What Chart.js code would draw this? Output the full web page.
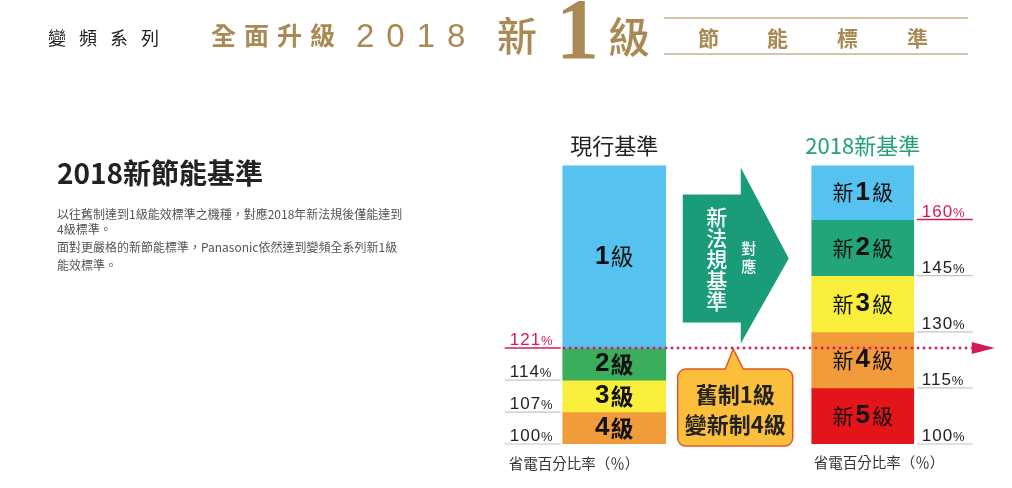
<!DOCTYPE html>
<html>
<head>
<meta charset="utf-8">
<script src="https://cdn.jsdelivr.net/npm/chart.js@4.4.0/dist/chart.umd.min.js"></script>
<style>
  html, body { margin: 0; padding: 0; background: #fff; }
  #wrap { position: relative; width: 1012px; height: 488px; overflow: hidden;
          font-family: "Noto Sans CJK TC", "Noto Sans", sans-serif; }
  #chart { position: absolute; left: 0; top: 0; }
  .t { position: absolute; white-space: nowrap; line-height: 1; }
  .gold { color: #a98a55; }
  .rule { position: absolute; left: 664px; width: 304px; height: 2px; background: #d2c5aa; }
  .para { position: absolute; left: 57px; font-size: 12px; color: #555; line-height: 1; white-space: nowrap; }
</style>
</head>
<body>
<div id="wrap">
  <canvas id="chart" width="1012" height="488"></canvas>

  <div class="t" style="left:48px; top:28px; font-size:18px; letter-spacing:13px; color:#222;">變頻系列</div>
  <div class="t gold" style="left:211px; top:22px; font-size:25px; letter-spacing:8px; font-weight:bold;">全面升級</div>
  <div class="t gold" style="left:356px; top:19px; font-size:33px; letter-spacing:12px; font-family:'Liberation Sans', sans-serif;">2018</div>
  <div class="t gold" style="left:497px; top:14px; font-size:40px; font-weight:500;">新</div>
  <div class="t gold" style="left:556px; top:-14px; font-size:86px; font-weight:bold; font-family:'Liberation Serif', serif;">1</div>
  <div class="t gold" style="left:608px; top:14px; font-size:42px; font-weight:500;">級</div>
  <div class="rule" style="top:17px;"></div>
  <div class="rule" style="top:53px;"></div>
  <div class="t gold" style="left:698px; top:27px; font-size:21px; font-weight:bold;">節</div>
  <div class="t gold" style="left:767px; top:27px; font-size:21px; font-weight:bold;">能</div>
  <div class="t gold" style="left:837px; top:27px; font-size:21px; font-weight:bold;">標</div>
  <div class="t gold" style="left:907px; top:27px; font-size:21px; font-weight:bold;">準</div>

  <div class="t" style="left:57px; top:158px; font-size:28px; font-weight:bold; color:#222;">2018新節能基準</div>
  <div class="para" style="top:208px;">以往舊制達到1級能效標準之機種，對應2018年新法規後僅能達到</div>
  <div class="para" style="top:223px;">4級標準。</div>
  <div class="para" style="top:241px;">面對更嚴格的新節能標準，Panasonic依然達到變頻全系列新1級</div>
  <div class="para" style="top:259px;">能效標準。</div>
</div>

<script>
const categories = ['現行基準', '2018新基準'];

const currentGrades = ['1級', '2級', '3級', '4級'];
const currentRanges = [[121, 161], [114, 121], [107, 114], [100, 107]];
const currentTicks = [121, 114, 107, 100];

const newGrades = ['新1級', '新2級', '新3級', '新4級', '新5級'];
const newRanges = [[160, 174.5], [145, 160], [130, 145], [115, 130], [100, 115]];
const newTicks = [160, 145, 130, 115, 100];

const oldTopLine = 121;
const newTopLine = 160;
const arrowWords = ['新', '法', '規', '基', '準'];
const arrowSide = ['對', '應'];
const calloutLines = ['舊制1級', '變新制4級'];
const axisNote = '省電百分比率（％）';

const currentColors = ['#55c2ef', '#3aae5b', '#f9ee3c', '#f29b3b'];
const newColors = ['#55c2ef', '#22a57a', '#f9ee3c', '#f29b3b', '#e4141b'];
const PINK = '#d6185d';
const FONT = '"Noto Sans CJK TC", "Noto Sans", sans-serif';
const NUM_FONT = '"Liberation Sans", "Noto Sans CJK TC", sans-serif';

function drawParts(ctx, parts, cx, cy) {
    let total = 0;
    parts.forEach(p => {
        ctx.font = p.font;
        p.w = ctx.measureText(p.text).width;
        total += p.w + (p.gap || 0);
    });
    let x = cx - total / 2;
    ctx.textAlign = 'left';
    ctx.textBaseline = 'middle';
    parts.forEach(p => {
        ctx.font = p.font;
        ctx.fillText(p.text, x, cy);
        x += p.w + (p.gap || 0);
    });
}

function gradeParts(label, isNew, index) {
    const m = label.match(/^(新?)(\d)(級)$/);
    const parts = [];
    if (isNew) {
        parts.push({ text: m[1], font: '21px ' + FONT, gap: 2 });
        parts.push({ text: m[2], font: 'bold 26px ' + NUM_FONT, gap: 2 });
        parts.push({ text: m[3], font: '21px ' + FONT });
    } else {
        parts.push({ text: m[2], font: 'bold 26px ' + NUM_FONT, gap: 1 });
        parts.push({ text: m[3], font: (index === 0 ? '' : 'bold ') + '23px ' + FONT });
    }
    return parts;
}

function drawPct(ctx, value, x0, x1, y, color) {
    ctx.strokeStyle = color === PINK ? PINK : '#c4c4c4';
    ctx.lineWidth = color === PINK ? 1.5 : 1.2;
    ctx.beginPath();
    ctx.moveTo(x0, y);
    ctx.lineTo(x1, y);
    ctx.stroke();
    ctx.fillStyle = color;
    ctx.textAlign = 'left';
    ctx.textBaseline = 'alphabetic';
    ctx.letterSpacing = '1px';
    ctx.font = '17px ' + NUM_FONT;
    const s = String(value);
    ctx.fillText(s, x0 + 5, y - 3);
    const w = ctx.measureText(s).width;
    ctx.font = '13px ' + NUM_FONT;
    ctx.fillText('%', x0 + 5 + w, y - 3);
    ctx.letterSpacing = '0px';
}

function calloutPath(ctx, x0, y0, x1, y1, r, px0, px1, tipX, tipY) {
    ctx.beginPath();
    ctx.moveTo(x0 + r, y0);
    ctx.lineTo(px0, y0);
    ctx.lineTo(tipX, tipY);
    ctx.lineTo(px1, y0);
    ctx.lineTo(x1 - r, y0);
    ctx.arcTo(x1, y0, x1, y0 + r, r);
    ctx.lineTo(x1, y1 - r);
    ctx.arcTo(x1, y1, x1 - r, y1, r);
    ctx.lineTo(x0 + r, y1);
    ctx.arcTo(x0, y1, x0, y1 - r, r);
    ctx.lineTo(x0, y0 + r);
    ctx.arcTo(x0, y0, x0 + r, y0, r);
    ctx.closePath();
}

const extras = {
    id: 'extras',
    afterDatasetsDraw(chart) {
        const ctx = chart.ctx;
        const area = chart.chartArea;
        const yL = chart.scales.yL;
        const yR = chart.scales.yR;
        const left = chart.getDatasetMeta(0).data[0];
        const right = chart.getDatasetMeta(currentGrades.length).data[1];
        const lx0 = left.x - left.width / 2, lx1 = left.x + left.width / 2;
        const rx0 = right.x - right.width / 2, rx1 = right.x + right.width / 2;
        ctx.save();

        // grade names inside the bars
        ctx.fillStyle = '#111';
        currentGrades.forEach((g, i) => {
            const el = chart.getDatasetMeta(i).data[0];
            drawParts(ctx, gradeParts(g, false, i), el.x, (el.y + el.base) / 2);
        });
        newGrades.forEach((g, i) => {
            const el = chart.getDatasetMeta(currentGrades.length + i).data[1];
            drawParts(ctx, gradeParts(g, true, i), el.x, (el.y + el.base) / 2);
        });

        // percentage marks
        currentTicks.forEach(v => {
            drawPct(ctx, v, lx0 - 58, lx0 - 2, yL.getPixelForValue(v), v === oldTopLine ? PINK : '#222');
        });
        newTicks.forEach(v => {
            drawPct(ctx, v, rx1 + 3, rx1 + 59, yR.getPixelForValue(v), v === newTopLine ? PINK : '#222');
        });

        // green arrow
        const ax0 = lx1 + 17, ax1 = lx1 + 75, tip = rx0 - 23;
        const t = area.top;
        ctx.fillStyle = '#1a9b79';
        ctx.beginPath();
        ctx.moveTo(ax0, t + 29);
        ctx.lineTo(ax1, t + 29);
        ctx.lineTo(ax1, t + 2);
        ctx.lineTo(tip, t + 93);
        ctx.lineTo(ax1, t + 178);
        ctx.lineTo(ax1, t + 157);
        ctx.lineTo(ax0, t + 157);
        ctx.closePath();
        ctx.fill();
        ctx.fillStyle = '#fff';
        ctx.textAlign = 'center';
        ctx.textBaseline = 'middle';
        ctx.font = '500 21px ' + FONT;
        arrowWords.forEach((w, i) => ctx.fillText(w, ax0 + 34, t + 52 + i * 21));
        ctx.font = '500 15px ' + FONT;
        arrowSide.forEach((w, i) => ctx.fillText(w, ax0 + 66, t + 83 + i * 18));

        // callout
        const lineY = yL.getPixelForValue(oldTopLine);
        const cx0 = lx1 + 12, cx1 = rx0 - 19;
        const cy0 = lineY + 21, cy1 = area.bottom + 2;
        const tipX = (cx0 + cx1) / 2 - 2;
        calloutPath(ctx, cx0, cy0, cx1, cy1, 8, tipX - 8, tipX + 10, tipX, lineY + 1);
        ctx.fillStyle = '#fbbf3c';
        ctx.fill();
        ctx.strokeStyle = '#e2582a';
        ctx.lineWidth = 1.5;
        ctx.stroke();
        ctx.fillStyle = '#222';
        ctx.font = 'bold 22px ' + FONT;
        calloutLines.forEach((s, i) => ctx.fillText(s, (cx0 + cx1) / 2, cy0 + 26 + i * 30));

        // dotted 121% line with arrow head
        ctx.strokeStyle = PINK;
        ctx.lineWidth = 2.5;
        ctx.setLineDash([2.5, 3.5]);
        ctx.beginPath();
        ctx.moveTo(lx0, lineY);
        ctx.lineTo(rx1 + 58, lineY);
        ctx.stroke();
        ctx.setLineDash([]);
        ctx.fillStyle = PINK;
        ctx.beginPath();
        ctx.moveTo(rx1 + 58, lineY - 6);
        ctx.lineTo(rx1 + 81, lineY);
        ctx.lineTo(rx1 + 58, lineY + 6);
        ctx.closePath();
        ctx.fill();

        // axis notes under the bars
        ctx.fillStyle = '#333';
        ctx.textAlign = 'left';
        ctx.font = '14.5px ' + FONT;
        ctx.fillText(axisNote, lx0 - 54, area.bottom + 19);
        ctx.fillText(axisNote, rx0 + 2, area.bottom + 18);
        ctx.restore();
    }
};

const datasets = [];
currentGrades.forEach((g, i) => datasets.push({
    label: g,
    data: [currentRanges[i], null],
    backgroundColor: currentColors[i],
    yAxisID: 'yL',
    grouped: false,
    barThickness: 103,
    borderWidth: 0,
}));
newGrades.forEach((g, i) => datasets.push({
    label: g,
    data: [null, newRanges[i]],
    backgroundColor: newColors[i],
    yAxisID: 'yR',
    grouped: false,
    barThickness: 102,
    borderWidth: 0,
}));

new Chart(document.getElementById('chart'), {
    type: 'bar',
    data: { labels: categories, datasets: datasets },
    options: {
        responsive: false,
        animation: false,
        layout: { padding: { left: 490, right: 25, top: 125, bottom: 44 } },
        plugins: { legend: { display: false }, tooltip: { enabled: false } },
        scales: {
            x: {
                position: 'top',
                grid: { display: false, drawTicks: false },
                border: { display: false },
                ticks: {
                    padding: 7,
                    maxRotation: 0,
                    font: { size: 22, family: FONT },
                    color: c => c.index === 0 ? '#222' : '#21a07a',
                },
            },
            yL: { type: 'linear', display: false, min: 100, max: 161 },
            yR: { type: 'linear', display: false, min: 100, max: 174.5 },
        },
    },
    plugins: [extras],
});
</script>
</body>
</html>
